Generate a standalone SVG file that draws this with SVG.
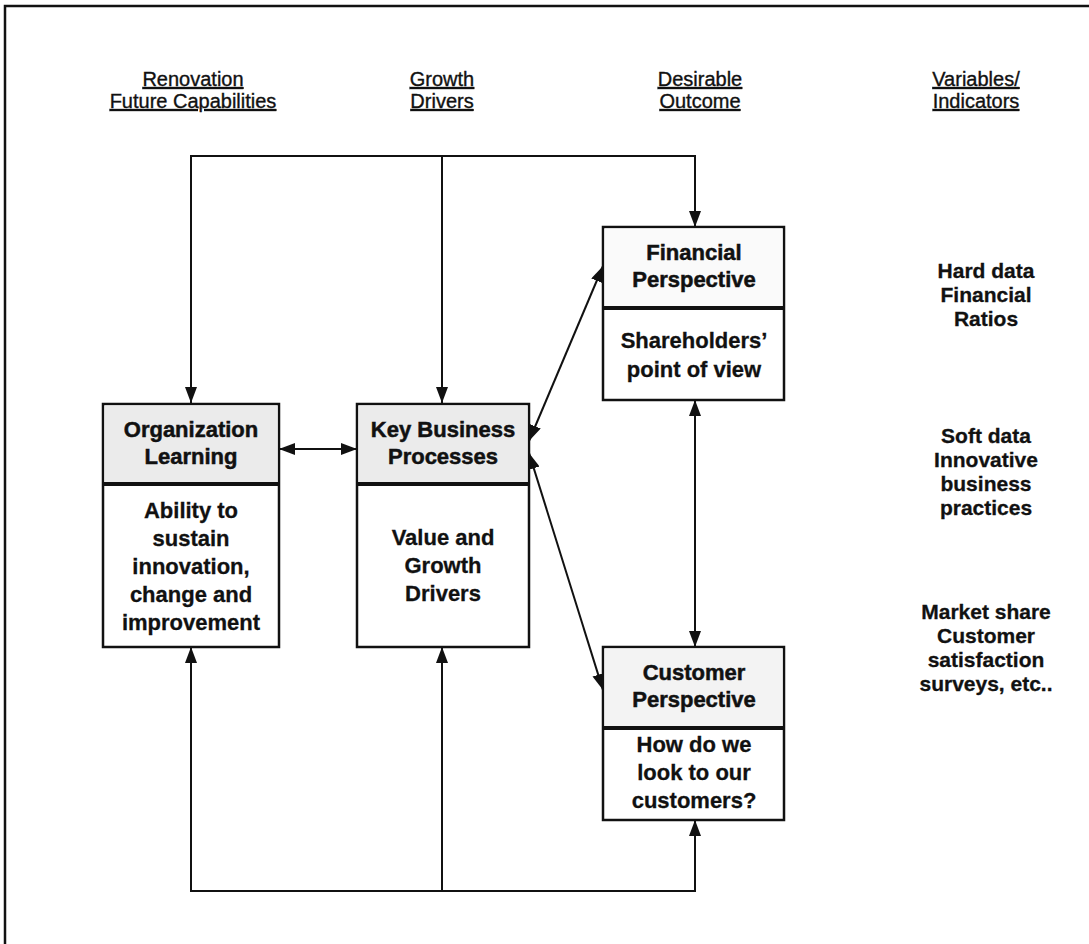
<svg xmlns="http://www.w3.org/2000/svg" width="1089" height="944" viewBox="0 0 1089 944">
  <defs>
    <marker id="arrow" viewBox="0 0 16 12" refX="16" refY="6" markerWidth="16" markerHeight="12" markerUnits="userSpaceOnUse" orient="auto-start-reverse">
      <path d="M0,0 L16,6 L0,12 z" fill="#111"/>
    </marker>
    <style>
      .frame { fill: none; stroke: #111; stroke-width: 2.5; }
      .box { fill: #fff; stroke: #111; stroke-width: 2.5; }
      .divider { stroke: #111; stroke-width: 4; }
      .conn { fill: none; stroke: #111; stroke-width: 2; }
      .head { font-family: "Liberation Sans", Arial, sans-serif; font-size: 20px; fill: #111; stroke: #111; stroke-width: 0.35; text-anchor: middle; text-decoration: underline; }
      .title { font-family: "Liberation Sans", Arial, sans-serif; font-size: 22px; font-weight: bold; fill: #111; stroke: #111; stroke-width: 0.5; text-anchor: middle; }
      .body { font-family: "Liberation Sans", Arial, sans-serif; font-size: 22px; font-weight: bold; fill: #111; stroke: #111; stroke-width: 0.3; text-anchor: middle; }
      .note { font-family: "Liberation Sans", Arial, sans-serif; font-size: 21px; font-weight: bold; fill: #111; stroke: #111; stroke-width: 0.3; text-anchor: middle; }
    </style>
  </defs>

  <rect width="1089" height="944" fill="#fff"/>
  <!-- outer frame: only the top and left edges fall inside the page -->
  <path class="frame" d="M5,944 V6 H1089"/>

  <!-- column headings -->
  <g id="headings">
    <text class="head" x="193" y="86">Renovation</text>
    <text class="head" x="193" y="108">Future Capabilities</text>
    <text class="head" x="442" y="86">Growth</text>
    <text class="head" x="442" y="108">Drivers</text>
    <text class="head" x="700" y="86">Desirable</text>
    <text class="head" x="700" y="108">Outcome</text>
    <text class="head" x="976" y="86">Variables/</text>
    <text class="head" x="976" y="108">Indicators</text>
  </g>

  <!-- connectors -->
  <g id="connectors">
    <path class="conn" d="M191,403 V156 H695 V227" marker-start="url(#arrow)" marker-end="url(#arrow)"/>
    <path class="conn" d="M442,156 V403" marker-end="url(#arrow)"/>
    <path class="conn" d="M191,647 V891 H695 V820" marker-start="url(#arrow)" marker-end="url(#arrow)"/>
    <path class="conn" d="M442,891 V647" marker-end="url(#arrow)"/>
    <path class="conn" d="M279,449 H357" marker-start="url(#arrow)" marker-end="url(#arrow)"/>
    <path class="conn" d="M529,441 L603,266" marker-start="url(#arrow)" marker-end="url(#arrow)"/>
    <path class="conn" d="M529,453 L603,690" marker-start="url(#arrow)" marker-end="url(#arrow)"/>
    <path class="conn" d="M695,400 V647" marker-start="url(#arrow)" marker-end="url(#arrow)"/>
  </g>

  <!-- Organization Learning -->
  <g id="organization-learning">
    <rect class="box" x="103" y="404" width="176" height="243"/>
    <rect x="104.5" y="405.5" width="173" height="77" fill="#ebebeb"/>
    <line class="divider" x1="103" y1="484" x2="279" y2="484"/>
    <text class="title" x="191" y="437">Organization</text>
    <text class="title" x="191" y="464">Learning</text>
    <text class="body" x="191" y="518">Ability to</text>
    <text class="body" x="191" y="546">sustain</text>
    <text class="body" x="191" y="574">innovation,</text>
    <text class="body" x="191" y="602">change and</text>
    <text class="body" x="191" y="630">improvement</text>
  </g>

  <!-- Key Business Processes -->
  <g id="key-business-processes">
    <rect class="box" x="357" y="404" width="172" height="243"/>
    <rect x="358.5" y="405.5" width="169" height="77" fill="#ebebeb"/>
    <line class="divider" x1="357" y1="484" x2="529" y2="484"/>
    <text class="title" x="443" y="437">Key Business</text>
    <text class="title" x="443" y="464">Processes</text>
    <text class="body" x="443" y="545">Value and</text>
    <text class="body" x="443" y="573">Growth</text>
    <text class="body" x="443" y="601">Drivers</text>
  </g>

  <!-- Financial Perspective -->
  <g id="financial-perspective">
    <rect class="box" x="603" y="227" width="181" height="173"/>
    <rect x="604.5" y="228.5" width="178" height="78" fill="#fafafa"/>
    <line class="divider" x1="603" y1="308" x2="784" y2="308"/>
    <text class="title" x="694" y="260">Financial</text>
    <text class="title" x="694" y="287">Perspective</text>
    <text class="body" x="694" y="348">Shareholders’</text>
    <text class="body" x="694" y="377">point of view</text>
  </g>

  <!-- Customer Perspective -->
  <g id="customer-perspective">
    <rect class="box" x="603" y="647" width="181" height="173"/>
    <rect x="604.5" y="648.5" width="178" height="78" fill="#f3f3f3"/>
    <line class="divider" x1="603" y1="728" x2="784" y2="728"/>
    <text class="title" x="694" y="680">Customer</text>
    <text class="title" x="694" y="707">Perspective</text>
    <text class="body" x="694" y="752">How do we</text>
    <text class="body" x="694" y="780">look to our</text>
    <text class="body" x="694" y="808">customers?</text>
  </g>

  <!-- variables / indicators column -->
  <g id="indicators">
    <text class="note" x="986" y="278">Hard data</text>
    <text class="note" x="986" y="302">Financial</text>
    <text class="note" x="986" y="326">Ratios</text>
    <text class="note" x="986" y="443">Soft data</text>
    <text class="note" x="986" y="467">Innovative</text>
    <text class="note" x="986" y="491">business</text>
    <text class="note" x="986" y="515">practices</text>
    <text class="note" x="986" y="619">Market share</text>
    <text class="note" x="986" y="643">Customer</text>
    <text class="note" x="986" y="667">satisfaction</text>
    <text class="note" x="986" y="691">surveys, etc..</text>
  </g>
</svg>
